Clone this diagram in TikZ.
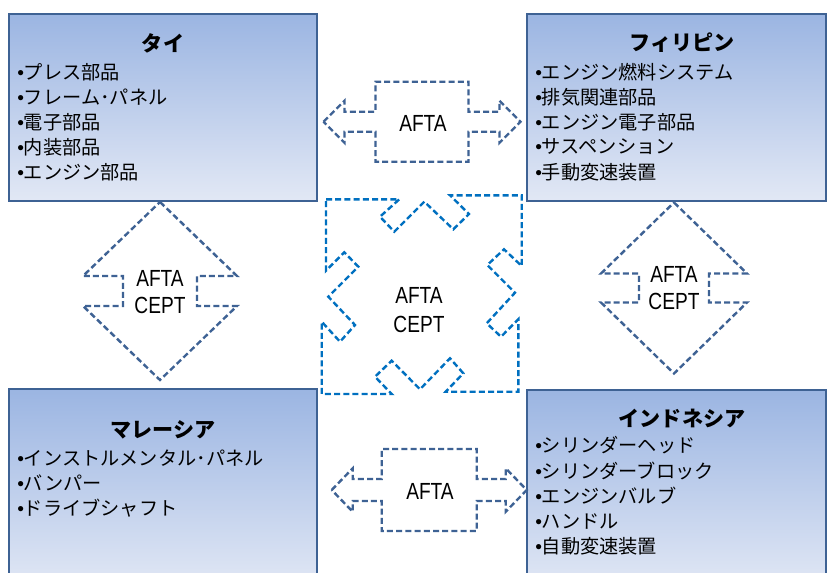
\documentclass[tikz,border=0pt]{standalone}
\usepackage{fontspec}
\setmainfont{Noto Sans CJK JP}
\newfontfamily\aftafont{Liberation Sans}[FakeStretch=0.82]
\newfontfamily\bulfont{Liberation Sans}
\definecolor{boxborder}{RGB}{62,98,148}
\definecolor{boxtop}{RGB}{155,181,226}
\definecolor{boxbot}{RGB}{226,232,245}
\definecolor{arrcol}{RGB}{62,98,148}
\definecolor{qcol}{RGB}{0,112,192}
\newcommand{\bu}{{\bulfont •}}
\begin{document}
\begin{tikzpicture}[x=0.75pt,y=-0.75pt,
  cbox/.style={draw=boxborder, line width=1.6pt, top color=boxtop, bottom color=boxbot},
  darr/.style={draw=arrcol, line width=1.8pt, dash pattern=on 4.5pt off 2.4pt, fill=white},
  qarr/.style={draw=qcol, line width=1.8pt, dash pattern=on 4.5pt off 2.4pt, fill=white},
  title/.style={font=\fontsize{15.8}{18}\selectfont\bfseries, inner sep=0},
  item/.style={font=\fontsize{14.4}{18}\selectfont, anchor=west, inner sep=0},
  lab/.style={font=\aftafont\fontsize{17.5}{20.5}\selectfont, inner sep=0, align=center}]
\useasboundingbox (0,0) rectangle (827,572);
\clip (0,0) rectangle (827,572);
\fill[white] (0,0) rectangle (827,572);

% boxes
\path[cbox] (9,14) rectangle (317,201);
\path[cbox] (527,14) rectangle (826,201);
\path[cbox] (9,389) rectangle (317,590);
\path[cbox] (527,390) rectangle (826,590);

% Tai
\node[title] (taiT) at (163,43) {タイ};
\foreach \t [count=\i] in {プレス部品,フレーム･パネル,電子部品,内装部品,エンジン部品}
  \node[item] (tai\i) at (17,{47+25*\i}) {\bu\t};
% Philippines
\node[title] (phT) at (682,43) {フィリピン};
\foreach \t [count=\i] in {エンジン燃料システム,排気関連部品,エンジン電子部品,サスペンション,手動変速装置}
  \node[item] (ph\i) at (535,{47+25*\i}) {\bu\t};
% Malaysia
\node[title] (maT) at (163,430) {マレーシア};
\foreach \t [count=\i] in {インストルメンタル･パネル,バンパー,ドライブシャフト}
  \node[item] (ma\i) at (17,{433+25*\i}) {\bu\t};
% Indonesia
\node[title] (inT) at (682,418) {インドネシア};
\foreach \t [count=\i] in {シリンダーヘッド,シリンダーブロック,エンジンバルブ,ハンドル,自動変速装置}
  \node[item] (in\i) at (535,{420+25.3*\i}) {\bu\t};

% top horizontal AFTA arrow
\begin{scope}[shift={(422,121.7)}]
\draw[darr] (-98.5,0) -- (-77.5,-21) -- (-77.5,-10) -- (-46.5,-10) -- (-46.5,-40) -- (46.5,-40)
  -- (46.5,-10) -- (77.5,-10) -- (77.5,-21) -- (98.5,0) -- (77.5,21) -- (77.5,10) -- (46.5,10)
  -- (46.5,40) -- (-46.5,40) -- (-46.5,10) -- (-77.5,10) -- (-77.5,21) -- cycle;
\end{scope}
\node[lab] (aftaT) at (423,123) {AFTA};

% bottom horizontal AFTA arrow
\begin{scope}[shift={(429.2,490)}]
\draw[darr] (-97.5,0) -- (-76.5,-21.7) -- (-76.5,-11) -- (-47.5,-11) -- (-47.5,-41) -- (47.5,-41)
  -- (47.5,-11) -- (76.5,-11) -- (76.5,-21.7) -- (97.5,0) -- (76.5,21.7) -- (76.5,11) -- (47.5,11)
  -- (47.5,41) -- (-47.5,41) -- (-47.5,11) -- (-76.5,11) -- (-76.5,21.7) -- cycle;
\end{scope}
\node[lab] (aftaB) at (430,491) {AFTA};

% left vertical arrow
\begin{scope}[shift={(160,291)}]
\draw[darr] (0,-89) -- (77,-15) -- (37,-15) -- (37,15) -- (77,15) -- (0,89) -- (-77,15)
  -- (-37,15) -- (-37,-15) -- (-77,-15) -- cycle;
\end{scope}
\node[lab] (ceptL) at (160,292) {AFTA\\CEPT};

% right vertical arrow
\begin{scope}[shift={(674,288)}]
\draw[darr] (0,-85.5) -- (73,-14.5) -- (35,-14.5) -- (35,14.5) -- (73,14.5) -- (0,85.5) -- (-73,14.5)
  -- (-35,14.5) -- (-35,-14.5) -- (-73,-14.5) -- cycle;
\end{scope}
\node[lab] (ceptR) at (674,288) {AFTA\\CEPT};

% center quad arrow
\draw[qarr] (326,199.3) -- (399.3,199.3) -- (380,216.7) -- (394.3,231.7) -- (424.3,201.7)
  -- (453.3,229.3) -- (469,214) -- (450,195.3) -- (521.7,195.3) -- (521.7,266)
  -- (504,249.3) -- (487.3,265) -- (515,292.7) -- (486.7,323.3) -- (501,336.7)
  -- (518.3,319.3) -- (518.3,391.7) -- (445.7,391.7) -- (463.3,373.3) -- (450,358.3)
  -- (420,389.3) -- (391.7,360.7) -- (375,376.7) -- (391.7,394) -- (321.7,394)
  -- (321.7,321.7) -- (340,341.7) -- (355,325) -- (328.3,296.7) -- (358.3,266.7)
  -- (344.3,252.3) -- (326,270.7) -- cycle;
\node[lab, font=\aftafont\fontsize{17.5}{22}\selectfont] (ceptC) at (419,310) {AFTA\\CEPT};
\end{tikzpicture}
\end{document}
